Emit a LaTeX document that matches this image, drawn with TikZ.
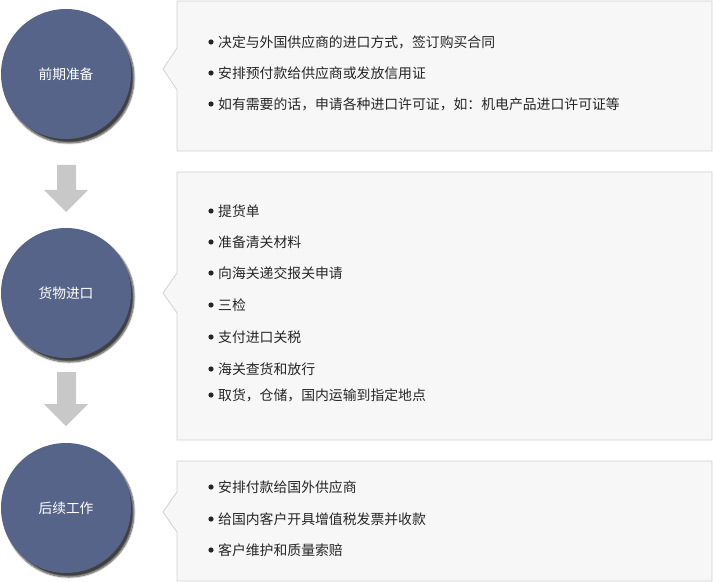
\documentclass[tikz,border=0pt]{standalone}
\usepackage{fontspec}
\newfontfamily\cjk{Noto Sans CJK SC}
\usetikzlibrary{shadows.blur}
\definecolor{circ}{HTML}{566489}
\definecolor{boxfill}{HTML}{F7F7F7}
\definecolor{boxline}{HTML}{D2D2D2}
\definecolor{arrowc}{HTML}{C8C8C8}
\definecolor{txt}{HTML}{262626}
\begin{document}
\begin{tikzpicture}[x=1bp,y=-1bp,
  stage/.style={circle, fill=circ, minimum size=130bp, inner sep=0pt, text=white,
    font=\cjk\fontsize{13.8}{16}\selectfont,
    blur shadow={shadow xshift=3bp, shadow yshift=-4bp, shadow blur steps=8, shadow opacity=75}},
  panel/.style={fill=boxfill, draw=boxline, line width=0.8bp},
  item/.style={anchor=west, inner sep=0pt, text=txt, font=\cjk\fontsize{13.9}{16}\selectfont},
  blockarrow/.style={fill=arrowc, draw=none}
]
\useasboundingbox (0,0) rectangle (713,582);

% panels with notches
\path[panel] (177,1) -| (712,151) -| (177,90) -- (163,69) -- (177,48) -- cycle;
\path[panel] (177,172) -| (712,440) -| (177,313) -- (163,293) -- (177,273) -- cycle;
\path[panel] (177,461) -| (712,581) -| (177,532) -- (163,512) -- (177,492) -- cycle;

% stage circles
\node[stage] (s1) at (66,74) {前期准备};
\node[stage] (s2) at (66,293) {货物进口};
\node[stage] (s3) at (66,508) {后续工作};

% block arrows
\path[blockarrow] (57,165) -- (76,165) -- (76,190) -- (88,190) -- (66,212) -- (44,190) -- (57,190) -- cycle;
\path[blockarrow] (57,372) -- (76,372) -- (76,404) -- (88,404) -- (66,426) -- (44,404) -- (57,404) -- cycle;

% items
\foreach \y/\t [count=\i] in {42/决定与外国供应商的进口方式，签订购买合同,
                   73/安排预付款给供应商或发放信用证,
                   104/如有需要的话，申请各种进口许可证，如：机电产品进口许可证等,
                   211/提货单,
                   242/准备清关材料,
                   273/向海关递交报关申请,
                   305/三检,
                   337/支付进口关税,
                   369/海关查货和放行,
                   395/取货，仓储，国内运输到指定地点,
                   487/安排付款给国外供应商,
                   519/给国内客户开具增值税发票并收款,
                   550/客户维护和质量索赔}{
  \fill[txt] (211,\y) circle[radius=2.6bp];
  \node[item] (t\i) at (218,\y) {\t};
}
\end{tikzpicture}
\end{document}
